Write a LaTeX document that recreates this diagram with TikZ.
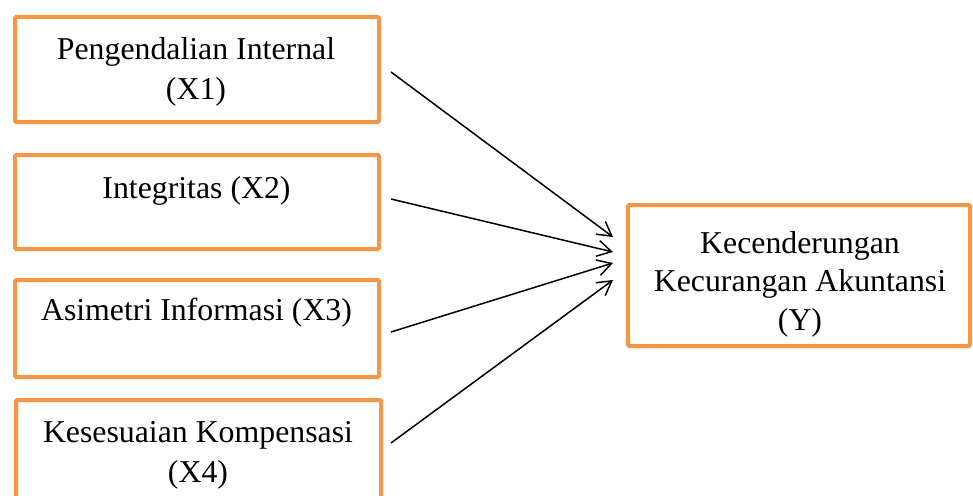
\documentclass[tikz,border=0pt]{standalone}
\usepackage{fontspec}
\setmainfont{Liberation Serif}
\usetikzlibrary{arrows.meta,calc}
\definecolor{boxorange}{HTML}{F79646}
\begin{document}
\begin{tikzpicture}[x=1pt,y=-1pt,
  box/.style={draw=boxorange, line width=4pt, rounded corners=1.2pt, inner sep=0pt, outer sep=0pt},
  lbl/.style={font=\fontsize{31.8}{40.5}\selectfont, align=center, anchor=base, inner sep=0pt},
  link/.style={draw=black, line width=1.5pt, -{Straight Barb[length=14pt,width=16pt]}}]
\useasboundingbox (0,0) rectangle (973,495);
\clip (0,0) rectangle (973,495);
% boxes
\node[box, minimum width=364pt, minimum height=105pt] (b1) at (197,69.5) {};
\node[box, minimum width=364pt, minimum height=94pt] (b2) at (197,202) {};
\node[box, minimum width=364pt, minimum height=97pt] (b3) at (197,328.5) {};
\node[box, minimum width=365pt, minimum height=120pt] (b4) at (198.5,460) {};
\node[box, minimum width=342pt, minimum height=141pt] (y) at (799,275.5) {};
% texts (base anchor = baseline of the last line)
\node[lbl] (t1) at (196,99.5) {Pengendalian Internal\\(X1)};
\node[lbl] (t2) at (196.5,198) {Integritas (X2)};
\node[lbl] (t3) at (196.5,320) {Asimetri Informasi (X3)};
\node[lbl] (t4) at (198,482.5) {Kesesuaian Kompensasi\\(X4)};
\node[lbl, font=\fontsize{31.8}{38.5}\selectfont] (ty) at (800,330) {Kecenderungan\\Kecurangan Akuntansi\\(Y)};
% connectors
\draw[link] ($(b1.east)+(12,2.5)$) -- ($(y.west)+(-15,-38.5)$);
\draw[link] ($(b2.east)+(12,-3)$) -- ($(y.west)+(-15,-23.5)$);
\draw[link] ($(b3.east)+(12,3.5)$) -- ($(y.west)+(-15,-12.5)$);
\draw[link] ($(b4.east)+(10,-17)$) -- ($(y.west)+(-15,4.5)$);
\end{tikzpicture}
\end{document}
